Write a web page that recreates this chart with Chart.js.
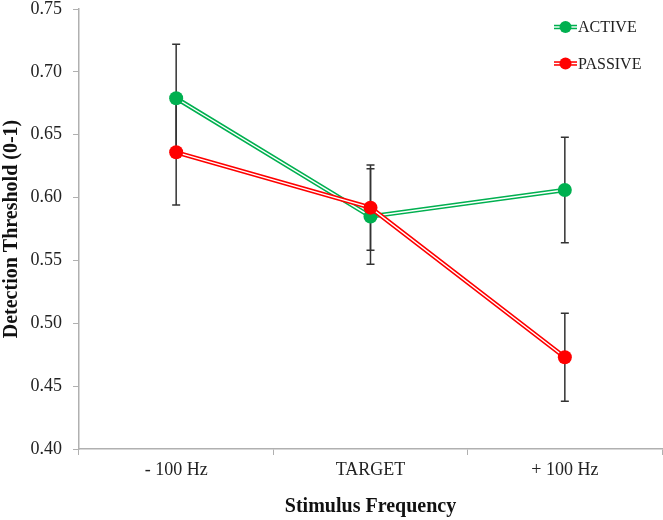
<!DOCTYPE html>
<html>
<head>
<meta charset="utf-8">
<script src="https://cdn.jsdelivr.net/npm/chart.js@4.4.1/dist/chart.umd.min.js"></script>
<style>
    html, body { margin: 0; padding: 0; background: #ffffff; }
    #chart { display: block; }
</style>
</head>
<body>
<canvas id="chart" width="663" height="520"></canvas>
<script>
// Datos
var categories = ['- 100 Hz', 'TARGET', '+ 100 Hz'];
var activeValues = [0.679, 0.585, 0.606];
var activeErrors = [0.043, 0.038, 0.042];
var passiveValues = [0.636, 0.592, 0.473];
var passiveErrors = [0.042, 0.034, 0.035];
var yMin = 0.40;
var yMax = 0.75;
var yStep = 0.05;

var series = [
    { label: 'ACTIVE', values: activeValues, errors: activeErrors, color: '#00b050' },
    { label: 'PASSIVE', values: passiveValues, errors: passiveErrors, color: '#ff0000' }
];

Chart.defaults.font.family = "'Liberation Serif', 'Times New Roman', serif";
Chart.defaults.color = '#222222';

// Cada serie: línea de color gruesa, línea blanca fina encima y luego los puntos
function buildDatasets() {
    var datasets = [];
    series.forEach(function(s, i) {
        var base = (series.length - i) * 10;
        datasets.push({
            data: s.values,
            borderColor: s.color,
            borderWidth: 4.5,
            pointRadius: 0,
            fill: false,
            order: base + 3
        });
        datasets.push({
            data: s.values,
            borderColor: '#ffffff',
            borderWidth: 1.4,
            pointRadius: 0,
            fill: false,
            order: base + 2
        });
        datasets.push({
            label: s.label,
            data: s.values,
            showLine: false,
            pointRadius: 7,
            pointBackgroundColor: s.color,
            pointBorderColor: s.color,
            pointBorderWidth: 0,
            order: base + 1
        });
    });
    return datasets;
}

// Barras de error por debajo de los datos
var errorBars = {
    id: 'errorBars',
    beforeDatasetsDraw: function(chart) {
        var ctx = chart.ctx;
        var xs = chart.scales.x;
        var ys = chart.scales.y;
        ctx.save();
        ctx.strokeStyle = '#333333';
        ctx.lineWidth = 1.5;
        series.forEach(function(s) {
            s.values.forEach(function(v, i) {
                var x = xs.getPixelForValue(i);
                var top = ys.getPixelForValue(v + s.errors[i]);
                var bot = ys.getPixelForValue(v - s.errors[i]);
                ctx.beginPath();
                ctx.moveTo(x, top);
                ctx.lineTo(x, bot);
                ctx.moveTo(x - 4, top);
                ctx.lineTo(x + 4, top);
                ctx.moveTo(x - 4, bot);
                ctx.lineTo(x + 4, bot);
                ctx.stroke();
            });
        });
        ctx.restore();
    }
};

// Leyenda dibujada a mano (línea doble con punto)
var legendMarks = {
    id: 'legendMarks',
    afterDraw: function(chart) {
        var ctx = chart.ctx;
        ctx.save();
        series.forEach(function(s, i) {
            var y = 27 + i * 36.5;
            var x0 = 554, x1 = 577, cx = 565.5;
            ctx.lineCap = 'butt';
            ctx.strokeStyle = s.color;
            ctx.lineWidth = 4.5;
            ctx.beginPath();
            ctx.moveTo(x0, y);
            ctx.lineTo(x1, y);
            ctx.stroke();
            ctx.strokeStyle = '#ffffff';
            ctx.lineWidth = 1.4;
            ctx.beginPath();
            ctx.moveTo(x0, y);
            ctx.lineTo(x1, y);
            ctx.stroke();
            ctx.fillStyle = s.color;
            ctx.beginPath();
            ctx.arc(cx, y, 6, 0, Math.PI * 2);
            ctx.fill();
            ctx.fillStyle = '#222222';
            ctx.font = "16px 'Liberation Serif'";
            ctx.textAlign = 'left';
            ctx.textBaseline = 'middle';
            ctx.fillText(s.label, 578, y + 1);
        });
        ctx.restore();
    }
};

new Chart(document.getElementById('chart').getContext('2d'), {
    type: 'line',
    data: {
        labels: categories,
        datasets: buildDatasets()
    },
    plugins: [errorBars, legendMarks],
    options: {
        responsive: false,
        animation: false,
        events: [],
        layout: {
            autoPadding: false,
            padding: { top: 9, right: 1, left: 0, bottom: 0 }
        },
        plugins: {
            legend: { display: false },
            tooltip: { enabled: false }
        },
        scales: {
            x: {
                type: 'category',
                offset: true,
                afterFit: function(scale) {
                    scale.height = 71;
                    scale.paddingLeft = 0;
                    scale.paddingRight = 0;
                },
                grid: {
                    offset: true,
                    drawOnChartArea: false,
                    drawTicks: true,
                    tickLength: 6,
                    color: '#b0b0b0'
                },
                border: { display: true, color: '#b0b0b0', width: 1.5 },
                ticks: {
                    padding: 4,
                    font: { size: 18 },
                    color: '#222222',
                    maxRotation: 0
                },
                title: {
                    display: true,
                    text: 'Stimulus Frequency',
                    font: { size: 20, weight: 'bold' },
                    color: '#111111',
                    padding: { top: 0, bottom: 1 }
                }
            },
            y: {
                min: yMin,
                max: yMax,
                afterFit: function(scale) {
                    scale.width = 79;
                    scale.paddingTop = 0;
                    scale.paddingBottom = 0;
                },
                grid: {
                    drawOnChartArea: false,
                    drawTicks: true,
                    tickLength: 6,
                    color: '#b0b0b0'
                },
                border: { display: true, color: '#b0b0b0', width: 1.5 },
                ticks: {
                    stepSize: yStep,
                    padding: 11,
                    font: { size: 18 },
                    color: '#222222',
                    callback: function(value) {
                        return value.toFixed(2);
                    }
                },
                title: {
                    display: true,
                    text: 'Detection Threshold (0-1)',
                    font: { size: 20, weight: 'bold' },
                    color: '#111111',
                    padding: { top: 0, bottom: 0 }
                }
            }
        }
    }
});
</script>
</body>
</html>
